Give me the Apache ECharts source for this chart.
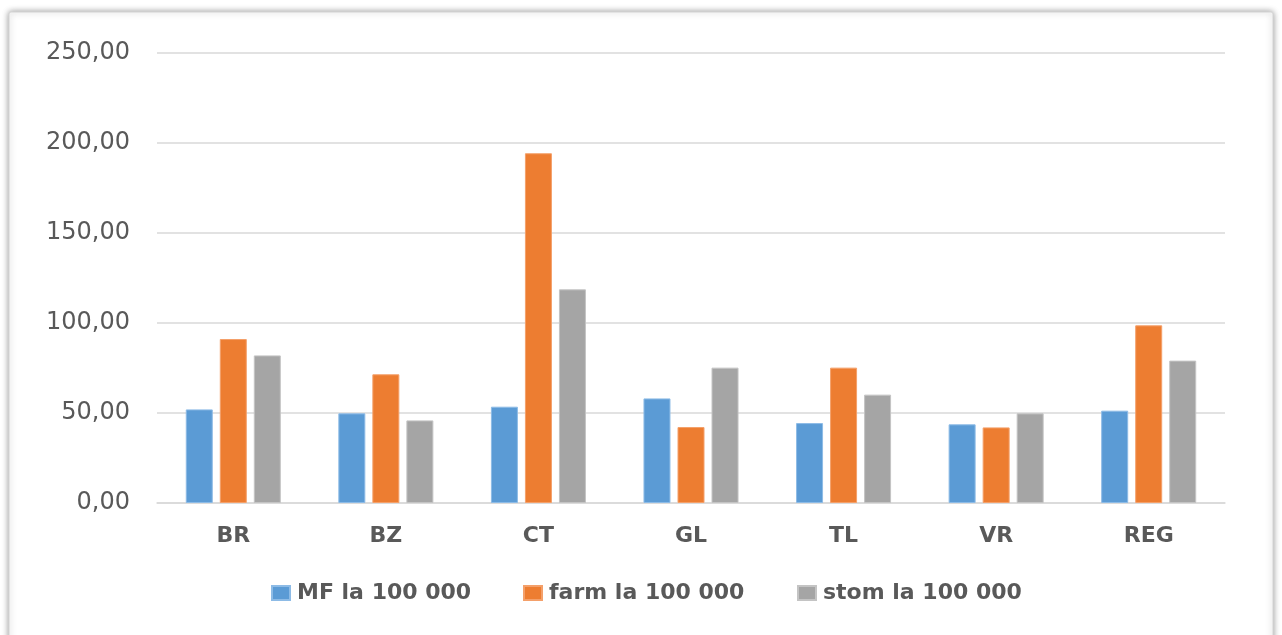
<!DOCTYPE html>
<html>
<head>
<meta charset="utf-8">
<title>Resurse medicale la 100 000 locuitori</title>
<script src="https://cdn.jsdelivr.net/npm/echarts@6/dist/echarts.min.js"></script>
<style>
  html, body { margin: 0; padding: 0; background: #ffffff; }
  #chart { width: 1282px; height: 635px; }
</style>
</head>
<body>
<div id="chart"></div>
<script>
// Judete (regiunea Sud-Est) si media regionala
const categories = ['BR', 'BZ', 'CT', 'GL', 'TL', 'VR', 'REG'];

// Medici de familie la 100 000 locuitori
const mfValues = [52.0, 49.8, 53.5, 58.1, 44.4, 43.7, 51.3];
// Farmacisti la 100 000 locuitori
const farmValues = [91.1, 71.5, 194.3, 42.2, 75.2, 42.0, 98.7];
// Stomatologi la 100 000 locuitori
const stomValues = [82.0, 45.9, 118.7, 75.2, 60.2, 49.8, 79.1];

const seriesNames = ['MF la 100 000', 'farm la 100 000', 'stom la 100 000'];
const yMin = 0, yMax = 250, yStep = 50;

const colors = ['#5B9BD5', '#ED7D31', '#A5A5A5'];
const edgeColors = ['#8DBBE6', '#F4A06A', '#C4C4C4'];
const fontFamily = '"DejaVu Sans", sans-serif';

const chart = echarts.init(document.getElementById('chart'), null, { renderer: 'canvas' });

function barSeries(name, values, i) {
  return {
    name: name,
    type: 'bar',
    data: values,
    barWidth: 27,
    barGap: '26%',
    itemStyle: { color: colors[i], borderColor: edgeColors[i], borderWidth: 1 },
    emphasis: { disabled: true }
  };
}

// One legend block per series so each entry sits at its own spot
const legendLefts = [266, 518, 792];
const legends = seriesNames.map((name, i) => ({
  data: [name],
  left: legendLefts[i],
  top: 577,
  itemWidth: 18,
  itemHeight: 14,
  icon: 'rect',
  selectedMode: false,
  textStyle: {
    color: '#595959', fontSize: 22, fontWeight: 'bold', fontFamily: fontFamily,
    lineHeight: 22, padding: [0, 0, 0, 2]
  }
}));

chart.setOption({
  animation: false,
  backgroundColor: '#ffffff',
  color: colors,
  graphic: [{
    type: 'rect',
    z: -10,
    silent: true,
    shape: { x: 9, y: 12, width: 1264, height: 700, r: 2 },
    style: {
      fill: '#ffffff',
      stroke: '#d4d4d4',
      lineWidth: 1,
      shadowBlur: 6,
      shadowColor: 'rgba(0,0,0,0.4)',
      shadowOffsetX: 0,
      shadowOffsetY: 0
    }
  }],
  grid: { left: 157, top: 53, width: 1068, height: 450, containLabel: false },
  legend: legends,
  xAxis: {
    type: 'category',
    data: categories,
    axisTick: { show: false },
    axisLine: { show: true, lineStyle: { color: '#d9d9d9', width: 1.5 } },
    axisLabel: { color: '#595959', fontSize: 22, fontWeight: 'bold', fontFamily: fontFamily, margin: 22 }
  },
  yAxis: {
    type: 'value',
    min: yMin,
    max: yMax,
    interval: yStep,
    axisLine: { show: false },
    axisTick: { show: false },
    splitLine: { lineStyle: { color: '#d9d9d9', width: 1.5 } },
    axisLabel: {
      color: '#595959',
      fontSize: 24,
      fontFamily: fontFamily,
      margin: 27,
      formatter: v => v.toFixed(2).replace('.', ',')
    }
  },
  series: [
    barSeries(seriesNames[0], mfValues, 0),
    barSeries(seriesNames[1], farmValues, 1),
    barSeries(seriesNames[2], stomValues, 2)
  ]
});
</script>
</body>
</html>
